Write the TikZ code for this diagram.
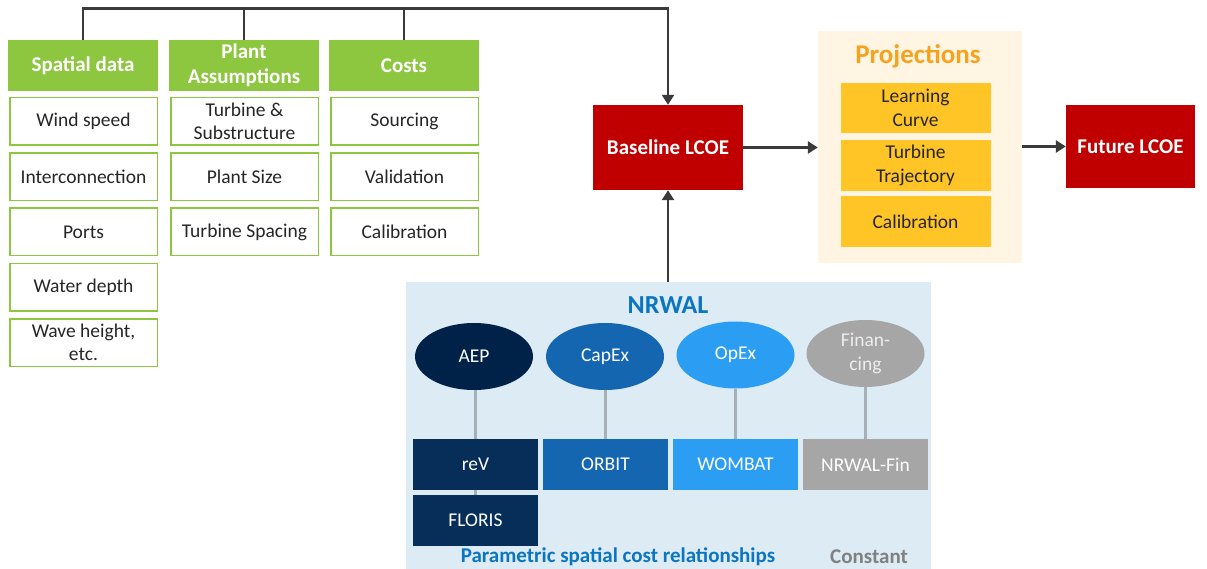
\documentclass[tikz,border=0pt]{standalone}
\usepackage{fontspec}
\setmainfont{Carlito}
\usetikzlibrary{shapes.geometric,arrows.meta}

\definecolor{leaf}{HTML}{8DC63F}
\definecolor{ink}{HTML}{262626}
\definecolor{wire}{HTML}{3A3A3A}
\definecolor{lcoered}{HTML}{C00000}
\definecolor{projcream}{HTML}{FFF5E2}
\definecolor{projorange}{HTML}{F5A31F}
\definecolor{projyellow}{HTML}{FFC425}
\definecolor{nrwalbg}{HTML}{DDEBF5}
\definecolor{nrwalblue}{HTML}{0B75C1}
\definecolor{aepnavy}{HTML}{002248}
\definecolor{revnavy}{HTML}{062E58}
\definecolor{capblue}{HTML}{1466B1}
\definecolor{opblue}{HTML}{2B9EF3}
\definecolor{fingray}{HTML}{A6A6A6}
\definecolor{stem}{HTML}{A8B0B7}

\begin{document}
\begin{tikzpicture}[x=1pt, y=-1pt,
    every node/.style={align=center, inner sep=0pt, font=\fontsize{19.5}{23.5}\selectfont},
    bold/.style={font=\fontsize{21}{25}\selectfont\bfseries},
    head/.style={bold, fill=leaf, text=white, minimum width=150pt, minimum height=51pt},
    item/.style={draw=leaf, line width=1.5pt, fill=white, text=ink, minimum width=147.5pt, minimum height=47.5pt},
    lcoe/.style={bold, fill=lcoered, text=white},
    lever/.style={fill=projyellow, text=ink, minimum width=150pt, minimum height=50pt},
    model/.style={ellipse, minimum width=118pt, minimum height=67pt, text=white},
    tool/.style={minimum width=125pt, minimum height=51pt, text=white},
    link/.style={draw=wire, line width=2.8pt},
    stemline/.style={draw=stem, line width=3pt},
    >={Triangle[length=10pt,width=12pt]}
  ]
  \useasboundingbox (0,0) rectangle (1207,569);

  % inputs
  \node[head] (sd) at (83,65.5) {Spatial data};
  \node[head] (pa) at (244,65.5) {Plant\\Assumptions};
  \node[head] (co) at (404,65.5) {Costs};
  \foreach \t [count=\i] in {Wind speed, Interconnection, Ports, Water depth, {Wave height,\\etc.}}
    \node[item] (sd\i) at (83.5,{121.5+55.25*(\i-1)}) {\t};
  \foreach \t [count=\i] in {{Turbine \&\\Substructure}, Plant Size, Turbine Spacing}
    \node[item] (pa\i) at (244.5,{121.5+55.25*(\i-1)}) {\t};
  \foreach \t [count=\i] in {Sourcing, Validation, Calibration}
    \node[item] (co\i) at (404.5,{121.5+55.25*(\i-1)}) {\t};

  % baseline and bus line
  \node[lcoe, minimum width=150pt, minimum height=85pt] (base) at (668,147.5) {Baseline LCOE};
  \coordinate (bus) at ([yshift=31pt]sd.north);
  \draw[link,->] (sd.north) -- (bus) -| (base.north);
  \foreach \h in {pa,co} \draw[link] (\h.north) -- (\h.north |- bus);

  % projections
  \node[fill=projcream, minimum width=204pt, minimum height=232pt] (proj) at (920,147) {};
  \node[font=\fontsize{27}{29}\selectfont\bfseries, text=projorange] (projtitle) at (918,56) {Projections};
  \node[lever] (learn) at (915.5,108) {Learning\\Curve};
  \node[lever, minimum height=51pt] (traj) at (915.5,165.5) {Turbine\\Trajectory};
  \node[lever, minimum height=51pt] (calib) at (915.5,221.5) {Calibration};
  \node[lcoe, minimum width=129pt, minimum height=83pt] (future) at (1130.5,146.5) {Future LCOE};
  \draw[link,->] (base.east) -- (base.east -| proj.west);
  \draw[link,->] (proj.east |- future.west) -- (future.west);

  % NRWAL
  \node[fill=nrwalbg, minimum width=525pt, minimum height=287pt] (nrwal) at (668.5,425.5) {};
  \node[font=\fontsize{26}{28}\selectfont\bfseries, text=nrwalblue] (nrwaltitle) at (668,305) {NRWAL};
  \draw[link,->] (base.south |- nrwal.north) -- (base.south);

  \node[model, fill=aepnavy] (aep) at (474,356.5) {AEP};
  \node[model, fill=capblue] (capex) at (605,356.5) {CapEx};
  \node[model, fill=opblue] (opex) at (735.5,355) {OpEx};
  \node[model, fill=fingray, text=white!93!black] (fin) at (865.5,353.5) {Finan-\\cing};
  \node[tool, fill=revnavy] (rev) at (475.5,464.5) {reV};
  \node[tool, fill=capblue] (orbit) at (605.5,464.5) {ORBIT};
  \node[tool, fill=opblue] (wombat) at (735.5,464.5) {WOMBAT};
  \node[tool, fill=fingray] (nrwalfin) at (865.5,464.5) {NRWAL-Fin};
  \node[tool, fill=revnavy] (floris) at (475.5,520.5) {FLORIS};
  \foreach \m/\t in {aep/rev, capex/orbit, opex/wombat, fin/nrwalfin}
    \draw[stemline] (\t.north |- \m.south) -- (\t.north);
  \draw[stemline] (rev.south) -- (floris.north);

  \node[font=\fontsize{21}{24}\selectfont\bfseries, text=nrwalblue] (param) at (618,557) {Parametric spatial cost relationships};
  \node[font=\fontsize{21}{24}\selectfont\bfseries, text=black!50] (const) at (869,557) {Constant};
\end{tikzpicture}
\end{document}
